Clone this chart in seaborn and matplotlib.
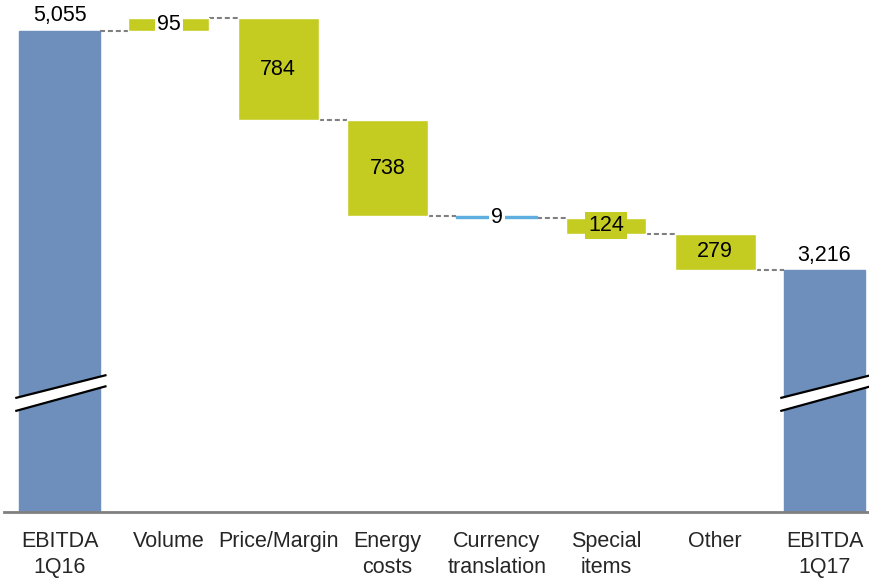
import numpy as np
import pandas as pd
import matplotlib
matplotlib.use("Agg")
import matplotlib.pyplot as plt
from matplotlib.patches import Polygon
import seaborn as sns

# Bridge from EBITDA 1Q16 to EBITDA 1Q17
categories = ["EBITDA\n1Q16", "Volume", "Price/Margin", "Energy\ncosts",
              "Currency\ntranslation", "Special\nitems", "Other", "EBITDA\n1Q17"]
start_total = 5055
changes = [95, -784, -738, -9, -124, -279]
end_total = 3216
change_labels = ["95", "784", "738", "9", "124", "279"]
total_labels = ["5,055", "3,216"]

BLUE = "#6E8EBB"
GREEN = "#C4CC22"
LIGHT_BLUE = "#5FAEE0"
GREY = "#808080"

# bar geometry for the waterfall
levels = [start_total]
for c in changes:
    levels.append(levels[-1] + c)
bottoms = [0.0]
heights = [float(start_total)]
for i, c in enumerate(changes):
    lo = min(levels[i], levels[i + 1])
    bottoms.append(float(lo))
    heights.append(float(abs(c)))
bottoms.append(0.0)
heights.append(float(end_total))

df = pd.DataFrame({"category": categories, "height": heights})

sns.set_style("white")
plt.rcParams["font.family"] = ["Liberation Sans", "DejaVu Sans"]

fig = plt.figure(figsize=(8.69, 5.78), dpi=100)
ax = fig.add_axes([4 / 869, 1 - 512 / 578, 865 / 869, 512 / 578])

width = 0.74
sns.barplot(data=df, x="category", y="height", order=categories,
            bottom=np.array(bottoms), width=width, color=GREEN,
            errorbar=None, ax=ax, saturation=1)

patches = ax.patches
for idx in (0, len(categories) - 1):
    patches[idx].set_facecolor(BLUE)
    patches[idx].set_edgecolor(BLUE)
# tiny currency effect shown as a thin blue line
patches[4].set_facecolor(LIGHT_BLUE)
patches[4].set_edgecolor(LIGHT_BLUE)
patches[4].set_linewidth(1.0)
for p in patches:
    p.set_zorder(2)

ax.set_xlim(-0.508, 7.407)
ax.set_ylim(1358, 5290)

# dashed connectors between consecutive bars
half = width / 2
for i in range(len(categories) - 1):
    lvl = levels[i] if i < len(levels) else levels[-1]
    ax.plot([i + half, i + 1 - half], [lvl, lvl], color=GREY, lw=1.5,
            ls=(0, (2.4, 1.4)), zorder=1, solid_capstyle="butt")

fs = 15.5
# totals above their bars
for pos, val, lab in [(0, start_total, total_labels[0]),
                      (len(categories) - 1, end_total, total_labels[1])]:
    ax.annotate(lab, (pos, val), xytext=(0, 3), textcoords="offset points",
                ha="center", va="bottom", fontsize=fs, color="black")

# change labels in the middle of each bar
for i, lab in enumerate(change_labels):
    pos = i + 1
    mid = bottoms[pos] + heights[pos] / 2
    bbox = None
    if lab in ("95", "9"):
        bbox = dict(boxstyle="square,pad=0.1", fc="white", ec="none")
    elif lab == "124":
        bbox = dict(boxstyle="square,pad=0.15", fc=GREEN, ec="none")
    ax.text(pos, mid, lab, ha="center", va="center", fontsize=fs,
            color="black", bbox=bbox, zorder=4)

# axis break marks on the total bars
def break_mark(x0):
    xl, xr = x0 - 0.405, x0 + 0.43
    upper = [(xl, 2233), (xr, 2410)]
    lower = [(xl, 2133), (xr, 2325)]
    poly = Polygon(upper + lower[::-1], closed=True, fc="white", ec="none", zorder=3)
    ax.add_patch(poly)
    for line in (upper, lower):
        ax.plot([line[0][0], line[1][0]], [line[0][1], line[1][1]],
                color="black", lw=1.6, zorder=3.5, solid_capstyle="butt")

break_mark(0)
break_mark(len(categories) - 1)

sns.despine(ax=ax, left=True, right=True, top=True)
ax.spines["bottom"].set_color(GREY)
ax.spines["bottom"].set_linewidth(2)
ax.set_yticks([])
ax.set_xlabel("")
ax.set_ylabel("")
ax.tick_params(axis="x", length=0, pad=13.5, labelsize=15.5)
for t in ax.get_xticklabels():
    t.set_linespacing(1.32)

fig.savefig("out.png", dpi=100)
